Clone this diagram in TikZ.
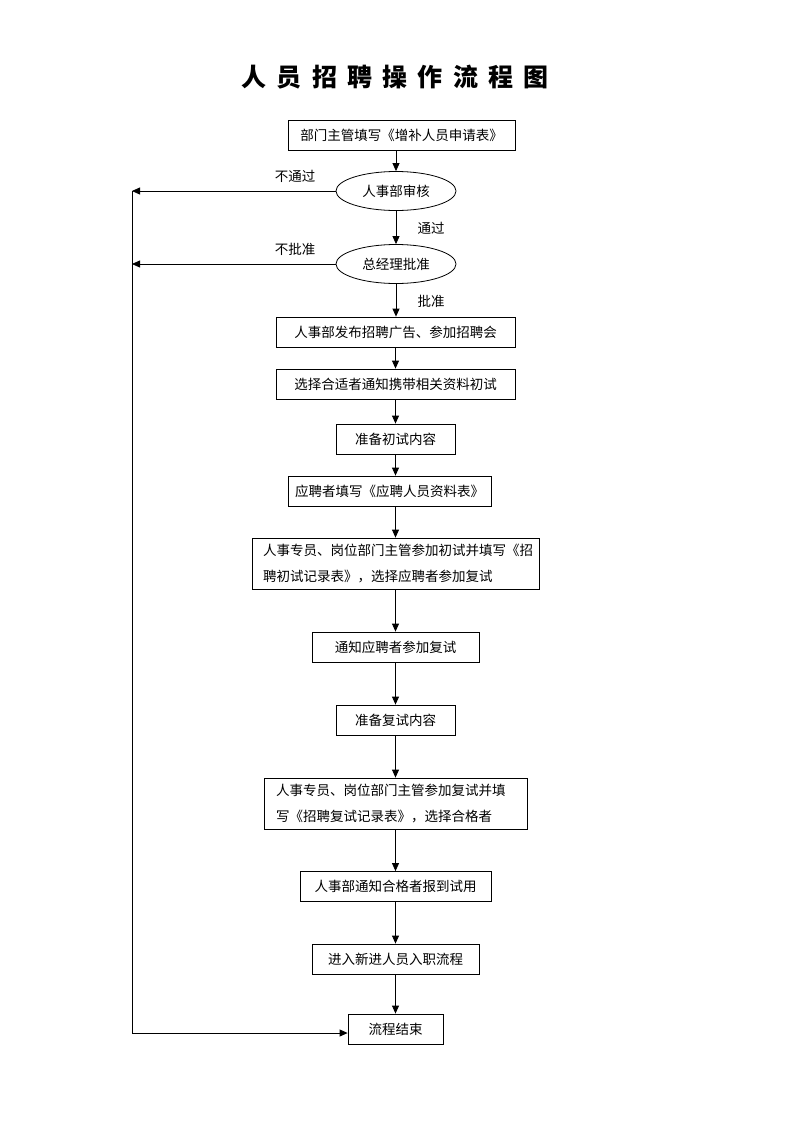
\documentclass[tikz,border=0pt]{standalone}
\usepackage{fontspec}
\setmainfont{Noto Sans CJK SC}
\newfontfamily\cjktitle[LetterSpace=41]{Noto Sans CJK SC}
\usetikzlibrary{arrows.meta,shapes.geometric}
\begin{document}
\begin{tikzpicture}[x=1pt,y=-1pt,
  every node/.style={font=\fontsize{13.5}{26}\selectfont},
  box/.style={draw,line width=0.8pt,inner sep=0pt,minimum height=30pt},
  wbox/.style={draw,line width=0.8pt,inner xsep=11pt,inner ysep=0pt,minimum height=51pt,align=left},
  oval/.style={draw,ellipse,line width=0.8pt,inner sep=0pt,minimum width=120pt,minimum height=39pt},
  lbl/.style={inner sep=0pt},
  arr/.style={line width=0.8pt,-{Triangle[length=8pt,width=7pt]}},
  ln/.style={line width=0.8pt}]
\useasboundingbox (0,0) rectangle (793,1122);
\node[inner sep=0pt,font=\cjktitle\bfseries\fontsize{25}{28}\selectfont] (title) at (395,77) {人员招聘操作流程图};
\node[box,minimum width=227pt] (b1) at (401.5,135) {部门主管填写《增补人员申请表》};
\node[oval] (e1) at (396,191) {人事部审核};
\node[oval] (e2) at (396,264) {总经理批准};
\node[box,minimum width=239pt] (b3) at (395.5,332) {人事部发布招聘广告、参加招聘会};
\node[box,minimum width=239pt] (b4) at (395.5,384) {选择合适者通知携带相关资料初试};
\node[box,minimum width=119pt] (b5) at (395.5,439) {准备初试内容};
\node[box,minimum width=203pt] (b6) at (389.5,491) {应聘者填写《应聘人员资料表》};
\node[wbox,text width=265pt] (b7) at (395.5,563.5) {人事专员、岗位部门主管参加初试并填写《招\\聘初试记录表》，选择应聘者参加复试};
\node[box,minimum width=167pt] (b8) at (395.5,647) {通知应聘者参加复试};
\node[box,minimum width=119pt] (b9) at (395.5,720) {准备复试内容};
\node[wbox,inner xsep=12pt,text width=239pt] (b10) at (395.5,803.5) {人事专员、岗位部门主管参加复试并填\\写《招聘复试记录表》，选择合格者};
\node[box,minimum width=191pt] (b11) at (395.5,886.5) {人事部通知合格者报到试用};
\node[box,minimum width=167pt] (b12) at (395.5,959) {进入新进人员入职流程};
\node[box,minimum width=95pt] (b13) at (395.5,1029) {流程结束};
\node[lbl] (l1) at (295,176) {不通过};
\node[lbl] (l2) at (431,228) {通过};
\node[lbl] (l3) at (295,249) {不批准};
\node[lbl] (l4) at (431,301) {批准};
\coordinate (c1) at (132,191);
\coordinate (c2) at (132,264);
\coordinate (c3) at (132,1033);
\draw[arr] (b1.south -| e1.north) -- (e1.north);
\draw[arr] (e1) -- (e2);
\draw[arr] (e2.south) -- (e2.south |- b3.north);
\draw[arr] (b3.south) -- (b4.north);
\draw[arr] (b4.south) -- (b5.north);
\draw[arr] (b5.south) -- (b5.south |- b6.north);
\draw[arr] (b5.south |- b6.south) -- (b5.south |- b7.north);
\draw[arr] (b7.south) -- (b8.north);
\draw[arr] (b8.south) -- (b9.north);
\draw[arr] (b9.south) -- (b10.north);
\draw[arr] (b10.south) -- (b11.north);
\draw[arr] (b11.south) -- (b12.north);
\draw[arr] (b12.south) -- (b13.north);
\draw[arr] (e1.west) -- (c1);
\draw[arr] (e2.west) -- (c2);
\draw[ln] (c1) -- (c3);
\draw[arr] (c3) -- (c3 -| b13.west);
\end{tikzpicture}
\end{document}
